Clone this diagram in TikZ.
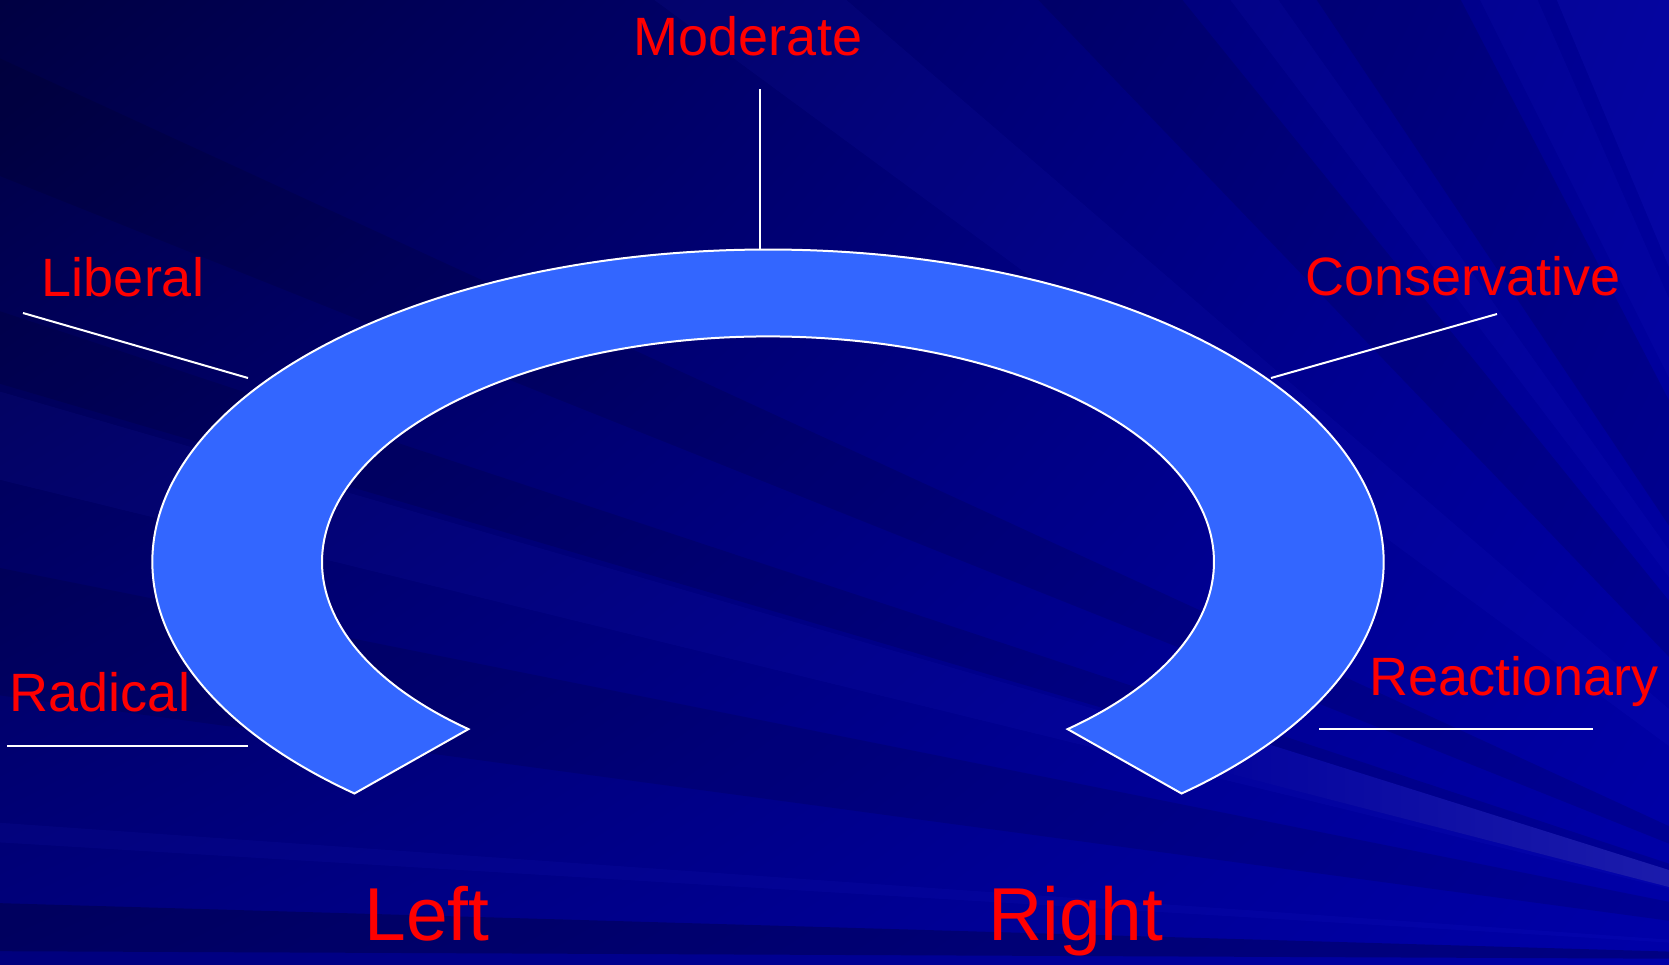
\documentclass[tikz,border=0pt]{standalone}
\usepackage{fontspec}
\setmainfont{Liberation Sans}
\usetikzlibrary{calc,shadings}
\definecolor{horsefill}{HTML}{3366FF}
\definecolor{bgul}{RGB}{0,0,66}
\definecolor{bgur}{RGB}{0,0,150}
\definecolor{bgll}{RGB}{0,0,125}
\definecolor{bglr}{RGB}{0,0,168}
\definecolor{raylt}{RGB}{60,60,255}
\definecolor{streakA}{RGB}{0,0,155}
\definecolor{streakB}{RGB}{28,28,172}
\tikzset{
  lbl/.style={text=red, font=\fontsize{54}{60}\selectfont, inner sep=0pt, anchor=base},
  biglbl/.style={text=red, font=\fontsize{75}{80}\selectfont, inner sep=0pt, anchor=base},
  leader/.style={draw=white, line width=2pt},
  horse/.style={fill=horsefill, draw=white, line width=2pt, line join=miter},
  raylight/.style={fill=raylt, fill opacity=0.06},
  raydark/.style={fill=black, fill opacity=0.11}
}
\begin{document}
\begin{tikzpicture}[x=1pt,y=-1pt]
\useasboundingbox (0,0) rectangle (1669,964);
% background
\begin{scope}
\clip (0,0) rectangle (1669,964);
\shade[upper left=bgul, upper right=bgur, lower left=bgll, lower right=bglr] (0,0) rectangle (1669,964);
\coordinate (F) at (1960,960);
\fill[raydark] (F) -- (-40,298) -- (-40,372) -- cycle;
\fill[raylight] (F) -- (-40,380) -- (-40,470) -- cycle;
\fill[raydark] (F) -- (-40,560) -- (-40,690) -- cycle;
\fill[raylight] (F) -- (-40,820) -- (-40,840) -- cycle;
\fill[raydark, fill opacity=0.22] (F) -- (-40,902) -- (-40,951) -- cycle;
\fill[raydark] (F) -- (-40,40) -- (-40,160) -- cycle;
\fill[raylight] (F) -- (600,-40) -- (800,-40) -- cycle;
\fill[raydark] (F) -- (1000,-40) -- (1150,-40) -- cycle;
\fill[raylight] (F) -- (1200,-40) -- (1250,-40) -- cycle;
\fill[raydark] (F) -- (1290,-40) -- (1440,-40) -- cycle;
\fill[raylight] (F) -- (1460,-40) -- (1520,-40) -- cycle;
\fill[raylight, fill opacity=0.09] (F) -- (1540,-40) -- (1700,-40) -- cycle;
\fill[raydark] (F) -- (1700,300) -- (1700,420) -- cycle;
\shade[left color=streakA, right color=streakB] (1150,707) -- (1669,870) -- (1669,887) -- (1150,753) -- cycle;
\end{scope}
% horseshoe
\coordinate (C) at (768,562);
\path[horse] ($(C)+(132.2:615.7 and 312.5)$)
  arc[start angle=132.2, end angle=407.8, x radius=615.7, y radius=312.5]
  -- ($(C)+(47.8:446 and 225.6)$)
  arc[start angle=407.8, end angle=132.2, x radius=446, y radius=225.6]
  -- cycle;
% leader lines
\coordinate (modA) at (760,89);
\coordinate (modB) at (760,249);
\coordinate (libA) at (23,313);
\coordinate (libB) at (248,378);
\coordinate (conA) at (1271,378);
\coordinate (conB) at (1497,314);
\coordinate (radA) at (7,746);
\coordinate (radB) at (248,746);
\coordinate (reaA) at (1319,729);
\coordinate (reaB) at (1593,729);
\draw[leader] (modA) -- (modB);
\draw[leader] (libA) -- (libB);
\draw[leader] (conA) -- (conB);
\draw[leader] (radA) -- (radB);
\draw[leader] (reaA) -- (reaB);
% labels
\node[lbl] (moderate) at (748,55) {Moderate};
\node[lbl] (liberal) at (123,296) {Liberal};
\node[lbl] (conservative) at (1463,295) {Conservative};
\node[lbl] (radical) at (100,711) {Radical};
\node[lbl] (reactionary) at (1514,695) {Reactionary};
\node[biglbl] (left) at (427,940) {Left};
\node[biglbl] (right) at (1076,940) {Right};
\end{tikzpicture}
\end{document}
